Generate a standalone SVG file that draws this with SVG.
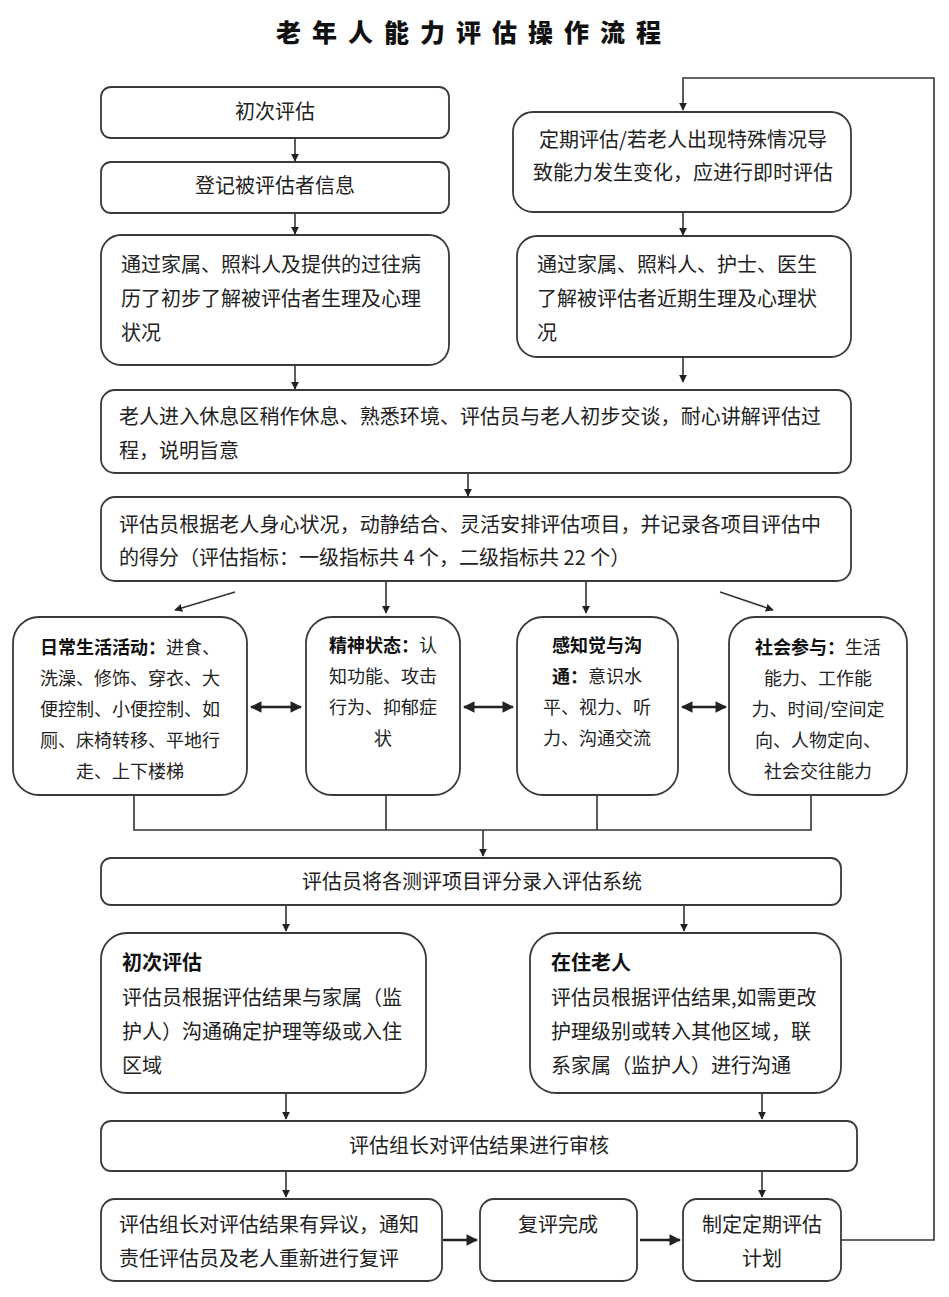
<svg xmlns="http://www.w3.org/2000/svg" width="949" height="1297" viewBox="0 0 949 1297">
<defs>
<style>
.b{fill:#fff;stroke:#3a3a3a;stroke-width:1.8}
.t{font-family:"Noto Sans CJK SC","Noto Sans",sans-serif;font-size:20px;fill:#222}
.s{font-family:"Noto Sans CJK SC","Noto Sans",sans-serif;font-size:18px;fill:#222}
.m{text-anchor:middle}
.bd{font-weight:bold;fill:#111}
.c{fill:none;stroke:#333;stroke-width:1.6}
.c2{fill:none;stroke:#222;stroke-width:2.6}
.ttl{font-family:"Noto Sans CJK SC","Noto Sans",sans-serif;font-size:25px;font-weight:900;fill:#111;letter-spacing:11px}
</style>
<marker id="ah" viewBox="0 0 10 10" refX="9" refY="5" markerWidth="8" markerHeight="8" markerUnits="userSpaceOnUse" orient="auto-start-reverse">
<path d="M0,0 L10,5 L0,10 z" fill="#222"/>
</marker>
<marker id="ah2" viewBox="0 0 10 10" refX="9" refY="5" markerWidth="4.5" markerHeight="4.5" orient="auto-start-reverse">
<path d="M0,0 L10,5 L0,10 z" fill="#222"/>
</marker>
</defs>
<rect width="949" height="1297" fill="#fff"/>
<text class="ttl m" x="474" y="42">老年人能力评估操作流程</text>

<g id="connectors">
<line class="c" x1="295" y1="138" x2="295" y2="161" marker-end="url(#ah)"/>
<line class="c" x1="295" y1="213" x2="295" y2="234" marker-end="url(#ah)"/>
<line class="c" x1="295" y1="365" x2="295" y2="389" marker-end="url(#ah)"/>
<line class="c" x1="683" y1="212" x2="683" y2="235" marker-end="url(#ah)"/>
<line class="c" x1="683" y1="357" x2="683" y2="382" marker-end="url(#ah)"/>
<line class="c" x1="468" y1="473" x2="468" y2="496" marker-end="url(#ah)"/>
<line class="c" x1="235" y1="592" x2="175" y2="610" marker-end="url(#ah)"/>
<line class="c" x1="386" y1="581" x2="386" y2="613" marker-end="url(#ah)"/>
<line class="c" x1="586" y1="581" x2="586" y2="613" marker-end="url(#ah)"/>
<line class="c" x1="720" y1="592" x2="773" y2="610" marker-end="url(#ah)"/>
<line class="c2" x1="251" y1="707" x2="301" y2="707" marker-start="url(#ah2)" marker-end="url(#ah2)"/>
<line class="c2" x1="464" y1="707" x2="513" y2="707" marker-start="url(#ah2)" marker-end="url(#ah2)"/>
<line class="c2" x1="682" y1="707" x2="726" y2="707" marker-start="url(#ah2)" marker-end="url(#ah2)"/>
<polyline class="c" points="134,795 134,830 811,830 811,795"/>
<line class="c" x1="386" y1="795" x2="386" y2="830"/>
<line class="c" x1="597" y1="795" x2="597" y2="830" stroke-width="2.2"/>
<line class="c" x1="483" y1="830" x2="483" y2="856" marker-end="url(#ah)"/>
<line class="c" x1="286" y1="905" x2="286" y2="931" marker-end="url(#ah)"/>
<line class="c" x1="684" y1="905" x2="684" y2="931" marker-end="url(#ah)"/>
<line class="c" x1="286" y1="1093" x2="286" y2="1119" marker-end="url(#ah)"/>
<line class="c" x1="762" y1="1093" x2="762" y2="1119" marker-end="url(#ah)"/>
<line class="c" x1="286" y1="1171" x2="286" y2="1197" marker-end="url(#ah)"/>
<line class="c" x1="762" y1="1171" x2="762" y2="1197" marker-end="url(#ah)"/>
<line class="c2" x1="443" y1="1240" x2="477" y2="1240" marker-end="url(#ah2)"/>
<line class="c2" x1="640" y1="1240" x2="680" y2="1240" marker-end="url(#ah2)"/>
<polyline class="c" points="841,1240 934,1240 934,78 683,78 683,110" marker-end="url(#ah)"/>
</g>

<g id="n1"><rect class="b" x="101" y="87" width="348" height="51" rx="10"/>
<text class="t m" x="275" y="119">初次评估</text></g>

<g id="n2"><rect class="b" x="101" y="162" width="348" height="51" rx="10"/>
<text class="t m" x="275" y="193">登记被评估者信息</text></g>

<g id="n3"><rect class="b" x="101" y="235" width="348" height="130" rx="20"/>
<text class="t" x="121" y="272">通过家属、照料人及提供的过往病</text>
<text class="t" x="121" y="306">历了初步了解被评估者生理及心理</text>
<text class="t" x="121" y="340">状况</text></g>

<g id="r1"><rect class="b" x="513" y="112" width="338" height="100" rx="20"/>
<text class="t m" x="683" y="147">定期评估/若老人出现特殊情况导</text>
<text class="t m" x="683" y="180">致能力发生变化，应进行即时评估</text></g>

<g id="r2"><rect class="b" x="517" y="236" width="334" height="121" rx="20"/>
<text class="t" x="537" y="272">通过家属、照料人、护士、医生</text>
<text class="t" x="537" y="306">了解被评估者近期生理及心理状</text>
<text class="t" x="537" y="340">况</text></g>

<g id="n4"><rect class="b" x="101" y="390" width="750" height="83" rx="14"/>
<text class="t" x="119" y="424" textLength="702" lengthAdjust="spacing">老人进入休息区稍作休息、熟悉环境、评估员与老人初步交谈，耐心讲解评估过</text>
<text class="t" x="119" y="458">程，说明旨意</text></g>

<g id="n5"><rect class="b" x="101" y="497" width="750" height="84" rx="14"/>
<text class="t" x="119" y="532" textLength="702" lengthAdjust="spacing">评估员根据老人身心状况，动静结合、灵活安排评估项目，并记录各项目评估中</text>
<text class="t" x="119" y="565">的得分（评估指标：一级指标共 4 个，二级指标共 22 个）</text></g>

<g id="a1"><rect class="b" x="13" y="617" width="234" height="178" rx="26"/>
<text class="s m" x="130" y="654"><tspan class="bd">日常生活活动：</tspan>进食、</text>
<text class="s m" x="130" y="685">洗澡、修饰、穿衣、大</text>
<text class="s m" x="130" y="716">便控制、小便控制、如</text>
<text class="s m" x="130" y="747">厕、床椅转移、平地行</text>
<text class="s m" x="130" y="778">走、上下楼梯</text></g>

<g id="a2"><rect class="b" x="306" y="617" width="154" height="178" rx="26"/>
<text class="s m" x="383" y="652"><tspan class="bd">精神状态：</tspan>认</text>
<text class="s m" x="383" y="683">知功能、攻击</text>
<text class="s m" x="383" y="714">行为、抑郁症</text>
<text class="s m" x="383" y="745">状</text></g>

<g id="a3"><rect class="b" x="517" y="617" width="161" height="178" rx="26"/>
<text class="s m bd" x="597" y="652">感知觉与沟</text>
<text class="s m" x="597" y="683"><tspan class="bd">通：</tspan>意识水</text>
<text class="s m" x="597" y="714">平、视力、听</text>
<text class="s m" x="597" y="745">力、沟通交流</text></g>

<g id="a4"><rect class="b" x="729" y="617" width="178" height="178" rx="26"/>
<text class="s m" x="818" y="654"><tspan class="bd">社会参与：</tspan>生活</text>
<text class="s m" x="818" y="685">能力、工作能</text>
<text class="s m" x="818" y="716">力、时间/空间定</text>
<text class="s m" x="818" y="747">向、人物定向、</text>
<text class="s m" x="818" y="778">社会交往能力</text></g>

<g id="n6"><rect class="b" x="101" y="858" width="740" height="47" rx="10"/>
<text class="t m" x="472" y="889">评估员将各测评项目评分录入评估系统</text></g>

<g id="n7"><rect class="b" x="101" y="933" width="325" height="160" rx="26"/>
<text class="t bd" x="122" y="970">初次评估</text>
<text class="t" x="122" y="1005">评估员根据评估结果与家属（监</text>
<text class="t" x="122" y="1039">护人）沟通确定护理等级或入住</text>
<text class="t" x="122" y="1073">区域</text></g>

<g id="n8"><rect class="b" x="530" y="933" width="311" height="160" rx="26"/>
<text class="t bd" x="551" y="970">在住老人</text>
<text class="t" x="551" y="1005">评估员根据评估结果,如需更改</text>
<text class="t" x="551" y="1039">护理级别或转入其他区域，联</text>
<text class="t" x="551" y="1073">系家属（监护人）进行沟通</text></g>

<g id="n9"><rect class="b" x="101" y="1121" width="756" height="50" rx="10"/>
<text class="t m" x="479" y="1153">评估组长对评估结果进行审核</text></g>

<g id="n10"><rect class="b" x="101" y="1199" width="341" height="82" rx="14"/>
<text class="t" x="119" y="1232">评估组长对评估结果有异议，通知</text>
<text class="t" x="119" y="1266">责任评估员及老人重新进行复评</text></g>

<g id="n11"><rect class="b" x="480" y="1199" width="157" height="82" rx="14"/>
<text class="t m" x="558" y="1232">复评完成</text></g>

<g id="n12"><rect class="b" x="683" y="1199" width="158" height="82" rx="14"/>
<text class="t m" x="762" y="1232">制定定期评估</text>
<text class="t m" x="762" y="1266">计划</text></g>
</svg>
